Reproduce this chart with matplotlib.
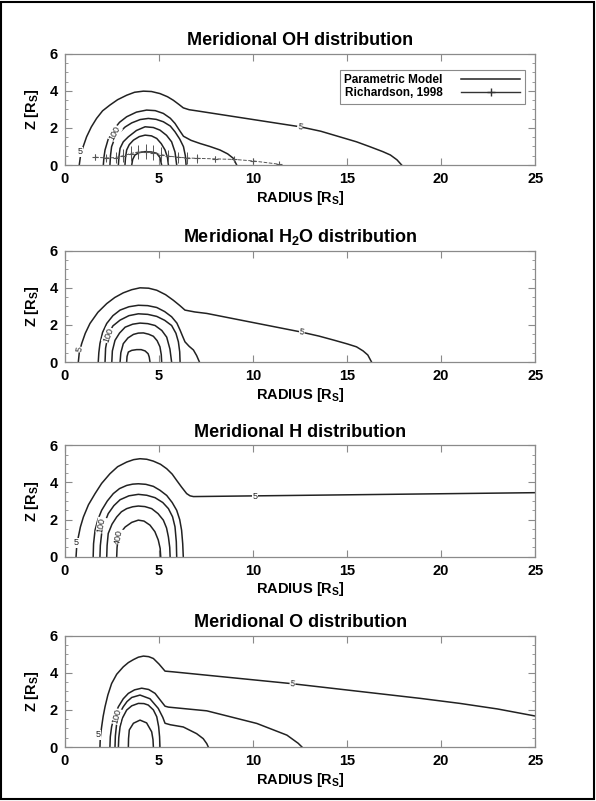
import matplotlib
matplotlib.use("Agg")
import matplotlib.pyplot as plt
from matplotlib.lines import Line2D
from matplotlib.patches import Rectangle
from matplotlib.ticker import MultipleLocator

plt.rcParams['font.family'] = ['Liberation Sans', 'DejaVu Sans']
plt.rcParams['font.weight'] = 'bold'
plt.rcParams['mathtext.fontset'] = 'custom'
plt.rcParams['mathtext.rm'] = 'Liberation Sans:bold'
plt.rcParams['mathtext.it'] = 'Liberation Sans:bold'
plt.rcParams['mathtext.bf'] = 'Liberation Sans:bold'

# contour lines (radius, z) in Saturn radii, outermost level first
oh_r = [
    [0.76, 0.82, 0.92, 1.15, 1.4, 1.68, 2.0, 2.39, 2.8, 3.28, 3.7, 4.17, 4.6, 5.05, 5.45, 5.76, 6.05, 6.29, 6.6, 7.0, 12.5, 13.6, 14.6, 15.5, 16.2, 16.9, 17.3, 17.65, 17.9],
    [2.04, 2.07, 2.13, 2.3, 2.57, 2.9, 3.28, 3.8, 4.34, 4.8, 5.23, 5.6, 5.85, 6.1, 6.3, 6.7, 7.18, 7.7, 8.24, 8.65, 8.95, 9.13],
    [2.39, 2.42, 2.48, 2.65, 2.93, 3.2, 3.55, 4.0, 4.43, 4.85, 5.23, 5.6, 5.85, 6.1, 6.3, 6.4, 6.44],
    [2.84, 2.87, 2.93, 3.1, 3.37, 3.8, 4.26, 4.7, 5.05, 5.4, 5.67, 5.85, 5.94],
    [3.19, 3.22, 3.28, 3.42, 3.64, 3.95, 4.26, 4.6, 4.88, 5.12, 5.32, 5.45, 5.5],
    [3.55, 3.6, 3.72, 3.95, 4.26, 4.6, 4.88, 5.05, 5.14],
]
oh_z = [
    [0.0, 0.45, 0.85, 1.52, 2.05, 2.51, 2.92, 3.23, 3.52, 3.76, 3.92, 3.98, 3.96, 3.85, 3.68, 3.49, 3.27, 3.08, 2.98, 2.92, 2.06, 1.82, 1.52, 1.25, 0.99, 0.72, 0.54, 0.28, 0.0],
    [0.0, 0.4, 0.81, 1.4, 1.88, 2.3, 2.6, 2.85, 2.96, 2.93, 2.78, 2.52, 2.24, 1.85, 1.55, 1.33, 1.16, 1.0, 0.81, 0.6, 0.36, 0.0],
    [0.0, 0.5, 0.99, 1.45, 1.79, 2.05, 2.27, 2.45, 2.51, 2.46, 2.33, 2.1, 1.79, 1.4, 0.99, 0.5, 0.0],
    [0.0, 0.45, 0.9, 1.25, 1.52, 1.86, 2.06, 2.02, 1.88, 1.6, 1.25, 0.7, 0.0],
    [0.0, 0.42, 0.81, 1.1, 1.34, 1.53, 1.61, 1.57, 1.43, 1.15, 0.81, 0.4, 0.0],
    [0.0, 0.3, 0.54, 0.67, 0.72, 0.7, 0.63, 0.4, 0.0],
]

h2o_r = [
    [0.71, 0.76, 0.89, 1.08, 1.33, 1.75, 2.22, 2.65, 3.1, 3.55, 3.99, 4.45, 4.88, 5.35, 5.76, 6.1, 6.38, 6.9, 7.54, 12.5, 13.5, 14.3, 15.0, 15.5, 15.85, 16.1, 16.3],
    [1.77, 1.8, 1.86, 2.0, 2.22, 2.55, 2.93, 3.4, 3.9, 4.4, 4.88, 5.3, 5.67, 5.95, 6.12, 6.25, 6.38, 6.6, 6.83, 7.0, 7.15],
    [2.13, 2.16, 2.3, 2.55, 2.93, 3.4, 3.9, 4.4, 4.88, 5.3, 5.67, 5.9, 6.03, 6.1, 6.12],
    [2.49, 2.52, 2.66, 2.9, 3.2, 3.6, 3.99, 4.4, 4.79, 5.15, 5.41, 5.58, 5.67],
    [2.93, 2.97, 3.1, 3.35, 3.64, 3.9, 4.17, 4.45, 4.7, 4.9, 5.05, 5.12, 5.14],
    [3.28, 3.3, 3.37, 3.55, 3.81, 4.05, 4.26, 4.42, 4.48, 4.52],
]
h2o_z = [
    [0.0, 0.5, 1.0, 1.55, 2.08, 2.68, 3.15, 3.48, 3.73, 3.9, 4.0, 3.98, 3.87, 3.63, 3.33, 3.05, 2.8, 2.7, 2.62, 1.63, 1.4, 1.18, 0.98, 0.82, 0.6, 0.38, 0.0],
    [0.0, 0.5, 1.0, 1.6, 2.08, 2.5, 2.8, 2.98, 3.06, 3.04, 2.94, 2.72, 2.44, 2.1, 1.72, 1.4, 1.09, 0.85, 0.65, 0.35, 0.0],
    [0.0, 0.75, 1.5, 1.95, 2.26, 2.5, 2.6, 2.57, 2.46, 2.25, 1.97, 1.55, 1.09, 0.55, 0.0],
    [0.0, 0.6, 1.17, 1.56, 1.88, 2.04, 2.1, 2.07, 1.97, 1.7, 1.34, 0.7, 0.0],
    [0.0, 0.5, 0.99, 1.3, 1.49, 1.56, 1.57, 1.5, 1.39, 1.15, 0.82, 0.4, 0.0],
    [0.0, 0.3, 0.54, 0.63, 0.67, 0.67, 0.6, 0.45, 0.27, 0.0],
]

h_r = [
    [0.59, 0.62, 0.71, 0.82, 0.98, 1.25, 1.6, 1.95, 2.39, 2.8, 3.28, 3.65, 3.99, 4.35, 4.7, 5.08, 5.41, 5.7, 5.94, 6.2, 6.47, 6.65, 6.83, 25.0],
    [1.5, 1.52, 1.6, 1.75, 1.95, 2.25, 2.57, 2.9, 3.28, 3.6, 3.9, 4.3, 4.7, 5.05, 5.41, 5.7, 5.94, 6.1, 6.2, 6.26, 6.29],
    [1.86, 1.88, 1.95, 2.1, 2.3, 2.6, 2.93, 3.4, 3.9, 4.35, 4.79, 5.2, 5.5, 5.72, 5.85, 5.92, 5.94],
    [2.22, 2.24, 2.3, 2.5, 2.75, 3.0, 3.28, 3.6, 3.9, 4.25, 4.61, 4.95, 5.23, 5.4, 5.5, 5.57, 5.59],
    [2.75, 2.77, 2.84, 3.0, 3.2, 3.55, 3.9, 4.2, 4.52, 4.78, 4.96, 5.06, 5.09],
]
h_z = [
    [0.0, 0.5, 1.06, 1.6, 2.14, 2.8, 3.4, 3.95, 4.47, 4.85, 5.1, 5.23, 5.28, 5.25, 5.15, 4.98, 4.74, 4.45, 4.11, 3.75, 3.4, 3.28, 3.24, 3.45],
    [0.0, 0.7, 1.43, 2.0, 2.5, 3.0, 3.4, 3.67, 3.84, 3.91, 3.93, 3.9, 3.79, 3.58, 3.3, 2.92, 2.5, 2.0, 1.43, 0.7, 0.0],
    [0.0, 0.6, 1.25, 1.8, 2.32, 2.75, 3.07, 3.28, 3.36, 3.31, 3.18, 2.92, 2.59, 2.15, 1.61, 0.8, 0.0],
    [0.0, 0.6, 1.25, 1.75, 2.14, 2.42, 2.59, 2.69, 2.73, 2.7, 2.59, 2.32, 1.97, 1.55, 1.06, 0.5, 0.0],
    [0.0, 0.5, 1.06, 1.35, 1.6, 1.85, 1.97, 1.92, 1.7, 1.35, 0.9, 0.45, 0.0],
]

o_r = [
    [1.86, 1.88, 1.95, 2.03, 2.13, 2.28, 2.48, 2.75, 3.1, 3.37, 3.64, 3.9, 4.17, 4.45, 4.7, 5.0, 5.32, 5.76, 12.0, 18.9, 21.0, 23.0, 25.0],
    [2.39, 2.41, 2.48, 2.62, 2.84, 3.1, 3.37, 3.7, 4.08, 4.45, 4.79, 5.05, 5.32, 5.5, 7.54, 9.3, 10.2, 11.8, 12.4, 12.6],
    [2.66, 2.68, 2.75, 2.9, 3.1, 3.3, 3.55, 3.99, 4.52, 4.96, 5.2, 5.32, 5.6, 6.29, 7.0, 7.35, 7.54, 7.62],
    [2.84, 2.86, 2.93, 3.05, 3.28, 3.55, 3.9, 4.2, 4.43, 4.7, 4.88, 4.98, 5.03, 5.05],
    [3.37, 3.38, 3.42, 3.64, 3.99, 4.34, 4.61, 4.68, 4.7],
]
o_z = [
    [0.0, 0.55, 1.09, 1.65, 2.17, 2.8, 3.42, 3.92, 4.32, 4.55, 4.71, 4.84, 4.9, 4.87, 4.77, 4.47, 4.09, 4.05, 3.42, 2.62, 2.35, 2.05, 1.67],
    [0.0, 0.55, 1.09, 1.65, 2.17, 2.6, 2.89, 3.08, 3.17, 3.1, 2.89, 2.55, 2.2, 2.15, 1.95, 1.5, 1.27, 0.64, 0.2, 0.0],
    [0.0, 0.6, 1.28, 1.8, 2.17, 2.45, 2.67, 2.8, 2.6, 2.08, 1.6, 1.28, 1.2, 1.08, 0.72, 0.45, 0.18, 0.0],
    [0.0, 0.5, 1.09, 1.55, 1.99, 2.22, 2.35, 2.34, 2.26, 2.0, 1.63, 1.1, 0.55, 0.0],
    [0.0, 0.45, 0.92, 1.28, 1.45, 1.3, 0.82, 0.4, 0.0],
]

# contour labels: text, radius, z, angle
oh_labels = [("5", 0.8, 0.72, 0), ("5", 12.5, 2.06, -8), ("100", 2.66, 1.7, 62)]
h2o_labels = [("5", 0.76, 0.68, 80), ("5", 12.6, 1.63, -10), ("100", 2.3, 1.45, 70)]
h_labels = [("5", 0.59, 0.74, 0), ("5", 10.1, 3.26, 0), ("100", 1.95, 1.69, 80), ("400", 2.84, 1.06, 80)]
o_labels = [("5", 1.77, 0.65, 0), ("5", 12.1, 3.42, -6), ("100", 2.75, 1.64, 75)]

# Richardson (1998) OH measurements
rich_r = [1.6, 2.2, 2.7, 3.1, 3.5, 3.9, 4.3, 4.7, 5.1, 5.5, 6.0, 6.5, 7.0, 8.0, 9.0, 10.0, 11.4]
rich_z = [0.42, 0.38, 0.40, 0.50, 0.62, 0.70, 0.72, 0.66, 0.56, 0.48, 0.42, 0.38, 0.36, 0.33, 0.30, 0.22, 0.04]
rich_err = [0.15, 0.2, 0.3, 0.35, 0.4, 0.4, 0.4, 0.4, 0.4, 0.35, 0.3, 0.3, 0.25, 0.15, 0.1, 0.1, 0.05]

titles = ["Meridional OH distribution",
          r"Meridional H$_\mathrm{2}$O distribution",
          "Meridional H distribution",
          "Meridional O distribution"]
x_ticks = [0, 5, 10, 15, 20, 25]
y_ticks = [0, 2, 4, 6]

line_col = "#222222"
axis_col = "#8a8a8a"

fig = plt.figure(figsize=(5.96, 8.01), dpi=100)
bottoms = [0.794, 0.548, 0.305, 0.0674]
panels = [(oh_r, oh_z, oh_labels), (h2o_r, h2o_z, h2o_labels),
          (h_r, h_z, h_labels), (o_r, o_z, o_labels)]

for i, (rs, zs, labels) in enumerate(panels):
    ax = fig.add_axes([0.109, bottoms[i], 0.789, 0.139])
    for r, z in zip(rs, zs):
        ax.plot(r, z, color=line_col, lw=1.1, solid_joinstyle="round")
    for txt, r, z, ang in labels:
        ax.text(r, z, txt, fontsize=6.5, fontweight="normal", rotation=ang,
                ha="center", va="center", color=line_col,
                bbox=dict(facecolor="white", edgecolor="none", pad=0.3))
    ax.set_xlim(0, 25)
    ax.set_ylim(0, 6)
    ax.set_xticks(x_ticks)
    ax.set_yticks(y_ticks)
    ax.yaxis.set_minor_locator(MultipleLocator(0.5))
    ax.tick_params(which="both", direction="in", top=True, right=True,
                   color=axis_col, labelsize=10.5, pad=5)
    ax.tick_params(which="major", length=5, width=0.8)
    ax.tick_params(which="minor", length=2.5, width=0.6)
    for sp in ax.spines.values():
        sp.set_color(axis_col)
        sp.set_linewidth(0.9)
    ax.set_title(titles[i], fontsize=13, fontweight="bold", pad=6)
    ax.set_xlabel(r"RADIUS [R$_\mathrm{S}$]", fontsize=10.5, fontweight="bold", labelpad=2)
    ax.set_ylabel(r"Z [R$_\mathrm{S}$]", fontsize=10.5, fontweight="bold", labelpad=6)

    if i == 0:
        ax.errorbar(rich_r, rich_z, yerr=rich_err, color="#555555", lw=0.7,
                    ls="--", marker="+", ms=5, mew=0.8, elinewidth=0.7, capsize=0)
        handles = [Line2D([], [], color=line_col, lw=1.1),
                   Line2D([], [], color="#333333", lw=1.0, marker="+", ms=6,
                          markevery=[1])]
        leg = ax.legend(handles, ["Parametric Model", "Richardson, 1998"],
                        loc="upper right", bbox_to_anchor=(0.99, 0.91),
                        markerfirst=False, fontsize=8.5, handlelength=5.0,
                        handletextpad=1.6, borderpad=0.35, labelspacing=0.15,
                        fancybox=False, framealpha=1)
        leg.get_frame().set_edgecolor(axis_col)
        leg.get_frame().set_linewidth(0.8)

# page frame
fig.add_artist(Rectangle((1 / 596, 2 / 801), 593 / 596, 797 / 801,
                         transform=fig.transFigure, fill=False,
                         edgecolor="black", lw=1.5))

fig.savefig("out.png", dpi=100)
